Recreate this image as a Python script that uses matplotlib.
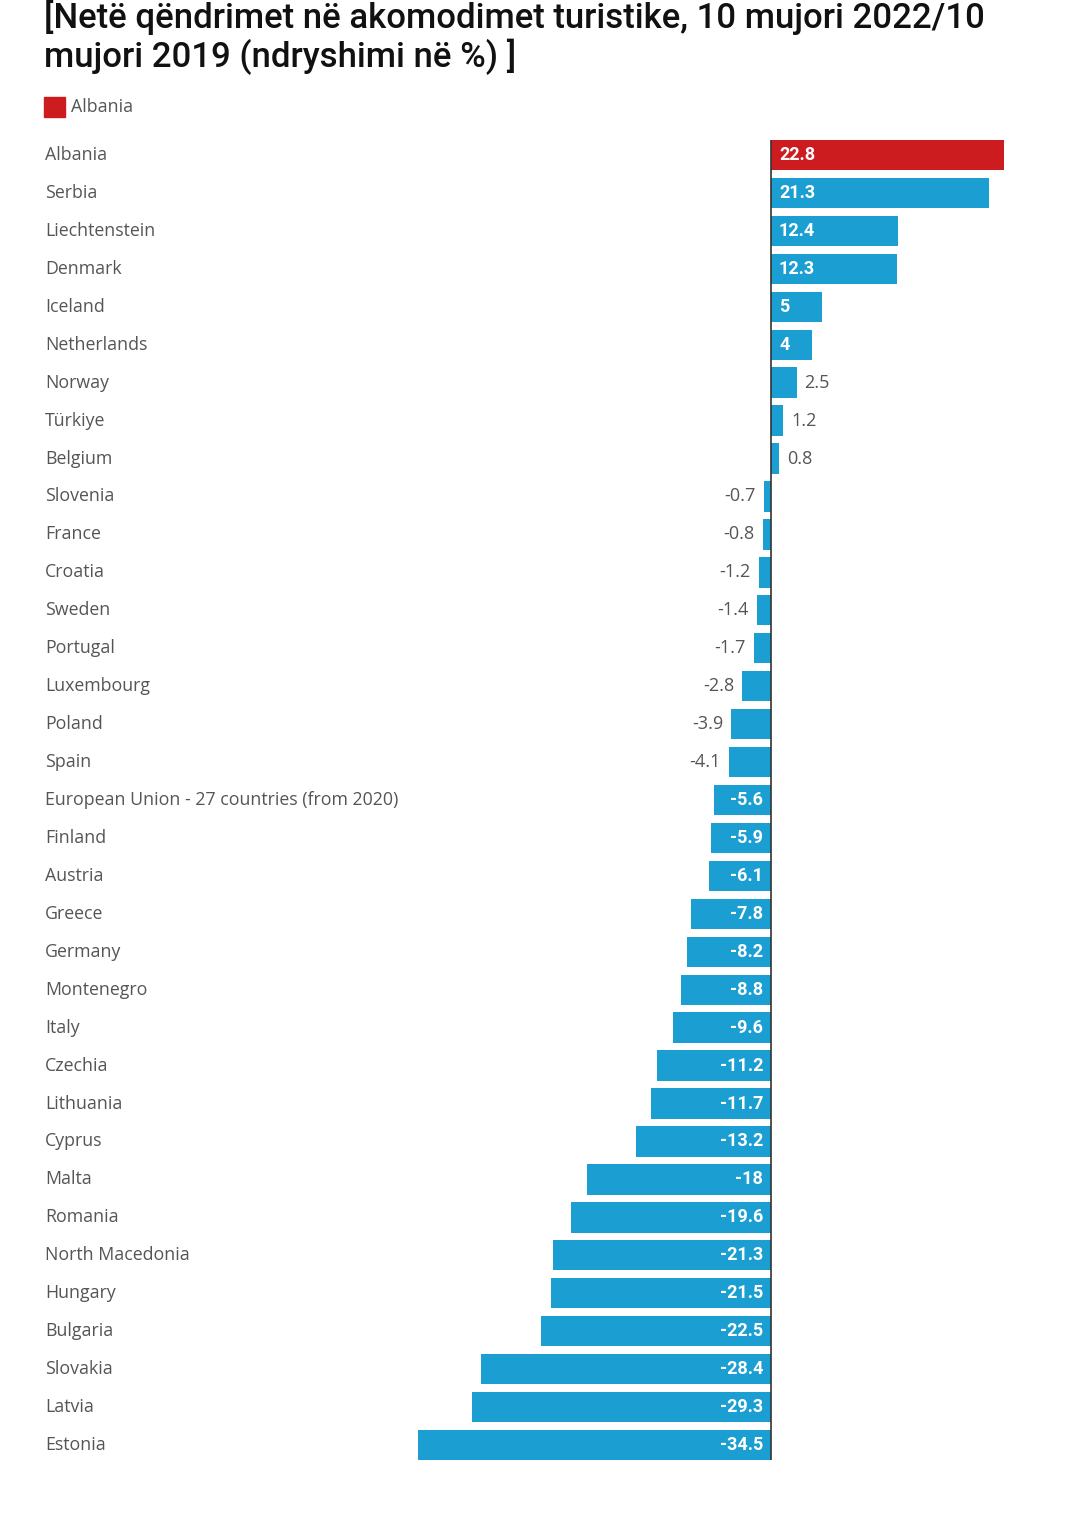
import matplotlib
matplotlib.use("Agg")
import matplotlib.pyplot as plt
from matplotlib.patches import Rectangle
import matplotlib.transforms as mtrans

countries = ["Albania", "Serbia", "Liechtenstein", "Denmark", "Iceland", "Netherlands",
             "Norway", "Türkiye", "Belgium", "Slovenia", "France", "Croatia", "Sweden",
             "Portugal", "Luxembourg", "Poland", "Spain",
             "European Union - 27 countries (from 2020)", "Finland", "Austria", "Greece",
             "Germany", "Montenegro", "Italy", "Czechia", "Lithuania", "Cyprus", "Malta",
             "Romania", "North Macedonia", "Hungary", "Bulgaria", "Slovakia", "Latvia",
             "Estonia"]
values = [22.8, 21.3, 12.4, 12.3, 5, 4, 2.5, 1.2, 0.8, -0.7, -0.8, -1.2, -1.4, -1.7,
          -2.8, -3.9, -4.1, -5.6, -5.9, -6.1, -7.8, -8.2, -8.8, -9.6, -11.2, -11.7,
          -13.2, -18, -19.6, -21.3, -21.5, -22.5, -28.4, -29.3, -34.5]
highlight = "Albania"
title = "[Netë qëndrimet në akomodimet turistike, 10 mujori 2022/10\nmujori 2019 (ndryshimi në %) ]"

BLUE = "#1b9fd3"
RED = "#cc1c1f"
GRAY = "#555555"

W, H = 1080, 1513
fig = plt.figure(figsize=(W / 100, H / 100), dpi=100)
fig.patch.set_facecolor("white")

# axes in pixel geometry
zero_px, ppu = 771, 10.22
ax_l, ax_r = 400, 1012
top_px, bot_px = 136, 1464
ax = fig.add_axes([ax_l / W, 1 - bot_px / H, (ax_r - ax_l) / W, (bot_px - top_px) / H])
ax.set_xlim((ax_l - zero_px) / ppu, (ax_r - zero_px) / ppu)
n = len(countries)
ax.set_ylim(n - 0.5, -0.5)
ax.axis("off")

ypos = list(range(n))
colors = [RED if c == highlight else BLUE for c in countries]
ax.barh(ypos, values, height=0.8, color=colors, zorder=2)
ax.vlines(0, -0.4, n - 0.6, color="#333333", lw=1.2, zorder=3)

fig.canvas.draw()
renderer = fig.canvas.get_renderer()
off = mtrans.ScaledTranslation(8 / 100, 0, fig.dpi_scale_trans)
off_n = mtrans.ScaledTranslation(-8 / 100, 0, fig.dpi_scale_trans)

for y, v in zip(ypos, values):
    s = f"{v:g}"
    bar_w = abs(v) * ppu
    t = ax.text(0, y, s, fontsize=13, fontweight="bold", family="Roboto", color="white",
                va="center", ha="left" if v > 0 else "right",
                transform=ax.transData + (off if v > 0 else off_n), zorder=4)
    tw = t.get_window_extent(renderer).width
    if tw + 14 > bar_w:
        t.remove()
        ax.text(v, y, s, fontsize=13, family="Open Sans", color=GRAY,
                va="center", ha="left" if v > 0 else "right",
                transform=ax.transData + (off if v > 0 else off_n), zorder=4)

# category labels
lab_tr = mtrans.blended_transform_factory(fig.transFigure, ax.transData)
for y, c in zip(ypos, countries):
    ax.text(45 / W, y, c, transform=lab_tr, fontsize=12.8, family="Open Sans",
            color=GRAY, va="center", ha="left")

# title
fig.text(44 / W, 1 - 0 / H, title, fontsize=25, family="Roboto", fontweight="medium",
         color="#111111", va="top", ha="left", linespacing=1.1)

# legend
fig.patches.append(Rectangle((44 / W, 1 - 117 / H), 21 / W, 20 / H,
                             transform=fig.transFigure, color=RED))
fig.text(71 / W, 1 - 107 / H, highlight, fontsize=12.8, family="Open Sans",
         color=GRAY, va="center", ha="left")

fig.savefig("out.png", dpi=100, facecolor="white")
